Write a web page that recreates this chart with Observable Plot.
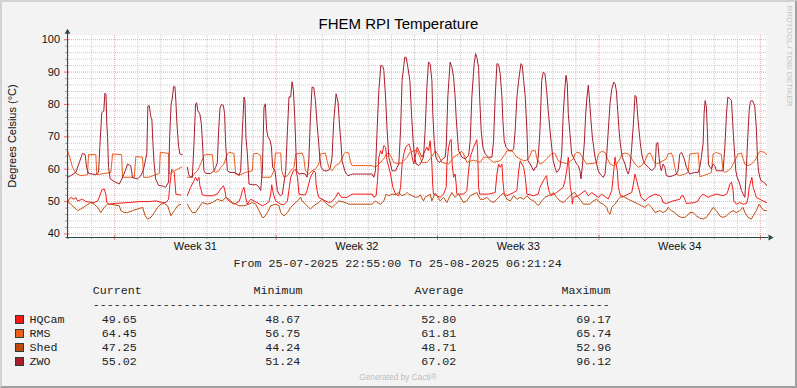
<!DOCTYPE html>
<html><head><meta charset="utf-8">
<script src="https://cdn.jsdelivr.net/npm/d3@7"></script>
<script src="https://cdn.jsdelivr.net/npm/@observablehq/plot@0.6"></script>
<style>
html,body{margin:0;padding:0;background:#F3F3F3;}
#wrap{position:relative;width:797px;height:388px;background:#F3F3F3;overflow:hidden;font-family:"Liberation Sans",Arial,sans-serif;}
#chart{position:absolute;left:0;top:0;}
#frame{position:absolute;left:0;top:0;width:797px;height:388px;box-sizing:border-box;border-style:solid;border-width:2px;border-color:#D2D2D2 #A0A0A0 #A0A0A0 #D2D2D2;pointer-events:none;}
.t{position:absolute;white-space:pre;line-height:1;}
.sw{position:absolute;width:7px;height:7px;border:1px solid #2C3E3A;}
</style></head><body>
<div id="wrap"><div id="chart"></div><div id="frame"></div></div>
<script>
// ---- data (hours since 25-07-2025 22:55, °C) ----
const seriesNames = ["HQCam","RMS","Shed","ZWO"];
const seriesColors = ["#F51A1A","#EC5E1C","#BE4A0E","#A81E2E"];
const legendCurrent = ["49.65","64.45","47.25","55.02"];
const legendMinimum = ["48.67","56.75","44.24","51.24"];
const legendAverage = ["52.80","61.81","48.71","67.02"];
const legendMaximum = ["69.17","65.74","52.96","96.12"];
const yTicks = [40,50,60,70,80,90,100];
const weekLabels = ["Week 31","Week 32","Week 33","Week 34"];

const hqcam = [[0,50],[1.8,50.7],[3.4,51.3],[7,50.7],[8.6,51.3],[10.4,50.2],[15.6,50.7],[19.1,50],[27.8,49.7],[31.3,50.2],[33,51.3],[35.7,53.6],[38.2,53.9],[39.9,52.3],[40.9,49.7],[43.4,49.2],[46.9,49.4],[64.3,49.7],[74.7,50],[85.1,50],[92,50.2],[99,49.7],[102.4,49.7],[105.2,50.7],[106.6,55.4],[108.6,60],[111.1,59],[112.8,52.3],[118,52],[120.8,NaN],
[124.7,51.8],[128.1,54.4],[131.6,56.4],[133.3,57.5],[135.1,56.4],[136.8,57.5],[137.8,54.9],[139.3,53.4],[140.3,52.1],[143.8,51.8],[150.7,51.8],[155.9,52.3],[159.4,53.9],[162.2,54.9],[163.5,53.9],[164.9,51.3],[168,50.2],[173.2,49.2],[178.4,50],[180.2,51.3],[182,53.4],[183.7,54.4],[185.4,51.3],[187.2,49.2],[190.6,50.7],[194.1,50.2],[202.8,48.7],[206.3,49.2],[209.7,50],[211.5,52.3],[212.5,55.2],[214.3,52.3],[216.7,50.2],[221.9,49.2],[225.3,49],[228.9,50.2],[232.3,57.5],[235.1,59.5],[237.5,60],[239.3,57.5],[240.9,52.3],
[244.1,52.1],[247.6,52.1],[249.3,53.4],[251,55.4],[252.8,57.5],[256.3,59.5],[258,59],[258.7,55.4],[259.7,53.4],[261.5,51.3],[268.4,50.2],[271.9,49.7],[275.3,50],[278.9,51.3],[281.6,52.8],[285.1,51.3],[290.9,51.3],[296.2,52.3],[317,52.3],[318.8,51.3],[321.2,51.8],[322.6,56.4],[324,63.7],[325.8,65.7],[327.4,64.7],[329.2,67.3],[331,66.8],[332.6,62.6],[334.4,60.6],[336.2,58.5],[338.6,54.4],[341.4,52.3],[344.8,51.8],[346.6,54.4],[348.2,61.6],[350,64.7],[351.8,66.8],[355.2,67.8],[357,66.3],[358.7,63.7],[360.4,61.6],[363.9,66.8],
[368.8,63.7],[374,66.8],[375.7,65.7],[377.4,68.8],[379.2,61.6],[380.2,54.4],[380.9,52.3],[387.8,51.3],[391.4,52.3],[394.1,54.4],[394.8,61.6],[396.6,66.8],[398.2,68.8],[399.3,69.2],[400.3,61.6],[401.8,57.5],[403.4,58.5],[404.5,55.4],[405.2,52.3],[412.2,52.3],[415.6,53.4],[417.4,59.5],[419.1,63.7],[422.6,66.8],[426,69.1],[426.8,65.7],[427.8,54.4],[428.9,52.3],[438.2,52.3],[445.1,52.8],[446.9,58.5],[448.6,61.6],[450.3,60.6],[452.1,61.6],[453.1,56.4],[454.5,52.3],[457.3,51.8],[464.3,52.8],[467.7,53.4],[469.5,59.5],[471.1,62.6],[472.9,61.6],[474.7,60.6],[476.4,57.5],[478.1,52.3],[485.1,51.8],
[489.9,52.3],[491.7,54.4],[495.1,56.4],[498.6,58],[499.6,55.4],[501,53.4],[503.1,51.8],[509,52.8],[515.9,54.4],[517.7,56.4],[519.5,59.5],[521.2,63.7],[523.3,54.4],[524.7,52.3],[525.4,49.2],[526.4,51.3],[531.6,51.8],[538.6,53.4],[542,51.8],[545.6,52.8],[552.4,51.3],[555.9,52.3],[562.8,50.8],[566.4,53.4],[568.5,59.5],[569.8,63.7],[570.9,61.6],[572.2,59.5],[573.3,54.4],[575,52.3],[576.8,51.3],[583.6,52.3],[587.2,52.8],[588.9,55.4],[590.6,58.5],[592.4,56.4],[594.1,54.4],[596.9,51.3],[601,50.2],[604.5,51.3],[611.5,52.3],
[616.4,51.8],[618,51.3],[619.8,49.7],[623.2,49.4],[630.2,50.2],[637.2,50.7],[638.9,51.8],[640.6,51.8],[642.4,50.7],[644.1,49.4],[652.8,49.7],[656.3,50.2],[658,51.3],[661.5,52.3],[666.7,51.3],[670.1,51.8],[675.3,52.3],[682.3,51.8],[685.8,52.3],[687.5,53.4],[689.3,55.4],[691,56],[692.7,53.4],[693.4,50.2],[696.1,49.2],[699.6,49.7],[703.1,49.2],[706.6,49.4],[708.3,51.3],[709.4,54.4],[712.2,57.5],[713.5,54.4],[715.3,52.8],[716.9,51.3],[720.5,50.7],[723.9,50.2],[727.4,49.7]];

const rms = [[0,65.7],[2.4,63.7],[5.2,60.6],[8.6,58.7],[13.9,58],[20.8,58.3],[21.9,64.5],[29.5,64.5],[30.5,58.3],[45.1,59],[46.9,64.7],[56.3,64.5],[57.3,57.5],[69.5,57.5],[71.1,63.9],[78.1,63.7],[79.2,57.5],[84.4,57.5],[95.5,58.7],[96.6,65.2],[105.2,64.9],[105.9,58.5],[114.6,60],[119.1,60.7],[120.8,NaN],
[124.7,57.5],[129.9,57.5],[131.6,58.5],[135.1,59.5],[138.5,61.6],[142,64.2],[143.8,64.5],[150.7,64.5],[152.4,59.5],[154.2,59],[157.6,59.5],[159.4,60.6],[162.8,61.6],[166.4,64.7],[168,65.2],[173.2,64.9],[175,58.5],[180.2,58.3],[185.4,59],[192.4,59.5],[193.4,64.7],[197.6,64.9],[201,64.2],[202.1,57.5],[211.5,57.5],[213.2,58.5],[214.9,59.5],[216.4,65],[221.9,65],[222.9,59.5],[225.3,57.5],[228.9,58],[232.3,59.5],[235.7,60.6],[237.5,64.7],[244.1,65],[245.8,63.7],[247.6,59.5],[251,58.5],[254.5,59.5],[258,60],[261.5,61.6],[263.2,64.7],[268.4,65],[270.1,62.6],[271.9,60.6],[275.3,59.5],[278.9,61.1],[282.3,61.6],[285.7,63.2],[287.5,64.7],[289.3,65.2],[292.7,65],[294.5,62.1],[296.2,61.1],[317,61.1],[320.5,60.6],[324,61.6],[327.4,62.6],[330.2,63.7],[331.6,64.7],[334.4,65],[336.2,64.2],[339.6,62.1],[344.8,61.6],[348.2,62.1],[350,62.6],[353.5,63.7],[356.3,65.2],[360.4,65.7],[363.9,65.7],
[367,63.7],[368.8,62.1],[374,62.1],[377.4,63.2],[381,64.7],[382.6,65.7],[386.2,64.2],[389.6,62.1],[396.6,61.6],[401.8,63.7],[407,64.7],[410.4,65.5],[412.2,64.7],[415.6,62.1],[422.6,62.8],[429.5,62.1],[433,63.7],[436.5,63.7],[443.4,62.1],[450.3,62.6],[455.5,64.7],[457.3,65.7],[462.5,65.7],[467.7,63.7],[474.7,62.6],[478.1,62.8],[481.6,64.2],[483.3,65.7],[486.8,65.7],[488.5,63.2],[491.7,61.6],[495.1,62.1],[498.6,63.2],[502.1,64.2],[503.9,64.9],[507.3,64.9],[510.7,62.6],[514.3,62.1],[519.5,61.8],[522.9,62.4],[526.4,63.2],[528.1,64.7],[529.9,65.2],[533.3,65],[536.8,63.2],[540.3,61.6],[547.2,61.8],[550.7,62.1],[552.4,64.7],[555.9,65.5],[559.4,65.2],[561.2,63.7],[564.6,61.6],[568,61.1],[571.6,61.6],[575,63.2],[577.4,64.7],[580.2,65],[583.6,64.7],[587.2,63.2],[590.6,61.6],[594.1,60.6],[597.6,61.1],[601,62.6],[603.9,64.7],[606.3,65],[608,64.2],[609.7,62.6],
[612.8,61.6],[616.4,62.1],[619.8,62.6],[623.2,63.2],[625,64.7],[628.4,65],[630.2,63.7],[632,60.6],[633.7,58.5],[637.2,58],[642.4,58.5],[645.8,59],[647.6,64.7],[656.3,65],[657.3,61.6],[658,57.7],[661.5,58],[666.7,58.5],[670.1,59],[671.9,64.7],[675.3,65.2],[680.5,64.5],[682.3,59.5],[684.1,59],[687.5,59.5],[691,60.6],[694.5,62.6],[697.9,64.7],[701.4,65],[703.1,63.2],[704.9,61.6],[708.3,61.1],[711.8,61.6],[715.3,62.6],[718.8,64.7],[720.5,65.5],[725.7,65.2],[727.4,64.5]];

const shed = [[0,50],[3.4,49.2],[7,48.2],[10.4,47.2],[13.9,47.7],[19.1,48.7],[24.3,49.7],[27.8,49.2],[31.3,48.2],[34.7,46.6],[38.2,48.2],[41.7,49.2],[45.1,49.2],[53.9,48.7],[55.5,47.2],[59.1,46.6],[62.5,46.6],[67.7,47.2],[72.9,47.7],[78.1,48.2],[80.9,45.6],[83.3,44.6],[86.8,45.1],[90.3,46.6],[93.8,48.2],[97.2,49.2],[100.7,49.4],[104.2,48.7],[107.6,45.6],[111.1,47.2],[114.6,48.7],[118,49.2],[120.8,NaN],
[124.7,49.2],[127.4,47.7],[129.9,46.6],[133.3,46.6],[136.8,48.2],[140.3,49.7],[145.5,49.2],[150.7,49.7],[155.9,50.7],[161.2,50.2],[164.6,51.3],[168,50.7],[171.6,49.7],[175,49.2],[178.4,48.7],[183.7,48.7],[188.9,49.2],[192.4,49.7],[195.8,49.2],[199.3,47.2],[202.8,45.1],[204.5,45.1],[208,46.6],[211.5,48.7],[216.7,49.2],[220.1,48.7],[221.9,46.6],[225.3,45.6],[228.9,46.6],[232.3,48.2],[235.7,49.2],[239.3,50.2],[242.7,51.3],[244.1,50.2],[247.6,49.2],[251,48.2],[252.8,47.7],[256.3,48.7],[261.5,49.7],[264.9,50.7],[270.1,49.2],[275.3,48.2],[278.9,49.2],[282.3,50.2],[289.3,49.7],[292.7,49.2],[317,49.2],[320.5,50.2],[322.2,49.7],[325.8,49.2],[329.2,50.2],[331.6,52.3],[334.4,51.8],[337.8,52.3],[341.4,52.1],[344.8,52.8],[348.2,51.8],[351.8,52.3],[353.5,52.8],[355.2,52.3],[358.7,51.8],[362.2,51.3],[365.6,51.5],
[367,52.1],[370.5,50.2],[372.2,51.3],[377.4,52.3],[379.2,50.2],[382.6,52.6],[384.4,51.8],[387.8,50.2],[391.4,51.3],[394.8,49.7],[398.2,51.8],[400,52.8],[403.4,51.3],[407,52.3],[412.2,49.7],[415.6,50.2],[419.1,51.8],[426,52.8],[429.5,50.7],[433,50.7],[436.5,51.3],[440,50.2],[443.4,49.7],[446.9,50.7],[450.3,51.8],[453.8,52.6],[457.3,50.7],[460.8,50.2],[464.3,51.8],[467.7,50.7],[471.1,51.3],[474.7,50.7],[478.1,51.8],[481.6,50.7],[485.1,50.2],[488.5,49.2],[489.9,48.7],[493.5,50.2],[496.9,51.3],[500.3,51.8],[503.9,52.3],[505.5,52.8],[509.1,51.3],[512.5,50.2],[515.9,49.7],[519.5,50.7],[522.9,51.8],[526.4,52.6],[528.1,52.8],[529.9,51.8],[533.3,50.7],[536.8,49.2],[543.8,49.2],[547.2,50.2],[550.7,50.7],[554.2,49.7],[557.6,49.2],[561.2,48.2],[562.8,46.6],[564.6,46.1],[566.4,48.2],[569.8,49.2],[573.3,50.7],[576.8,51.8],[580.2,51.3],[583.6,50.7],[587.2,50.2],[590.6,49.7],[594.1,49.2],[597.6,48.7],[601,48.2],[604.5,49.2],[608,48.2],[611.5,46.6],
[616.4,47.2],[619.8,46.6],[623.2,47.2],[625,48.2],[628.4,47.2],[632,46.6],[635.4,45.6],[638.9,45.1],[642.4,45.1],[645.8,45.9],[647.6,46.6],[651,46.6],[654.5,45.6],[658,44.9],[661.5,44.6],[664.9,45.1],[668.4,46.6],[671.9,48.2],[675.3,47.2],[678.8,45.6],[682.3,45.1],[685.8,45.6],[689.3,46.6],[692.7,47.2],[696.1,46.6],[699.6,47.2],[703.1,48.2],[704.9,46.6],[708.3,45.1],[711.8,44.6],[713.5,45.6],[716.9,47.2],[719.7,49.2],[722.1,48.2],[724.7,47.2],[727.4,47.2]];

const zwo = [[0,57.5],[3.4,58],[8.6,59],[12.2,62],[15.6,64.9],[18.4,64.5],[19.8,60.6],[21.9,58.7],[29.5,58.3],[32.3,59],[33.6,66.7],[35.7,77.5],[37.8,78],[38.9,83.5],[40.1,83],[40.9,74],[41.7,70],[42.7,60.5],[44.5,57],[48.6,56.2],[53.9,55.4],[56.6,57],[60.1,59.5],[62.5,61.6],[65.9,61],[67.7,57.4],[72.9,57],[76.4,58],[79.2,60],[82.6,65],[83.6,79.5],[85.1,79.6],[86.8,76],[87.8,75.5],[88.9,68],[90.1,62],[91.7,57],[94.8,55],[99,54.8],[102.1,54.4],[105.2,56],[106.3,70],[107.8,80],[109.1,82],[110.4,85.5],[111.8,85.5],[112.8,81],[113.9,74],[115.6,67],[117,64.7],[119.3,64.5],[120.8,NaN],
[124.7,60.6],[126.4,58],[129.9,57.5],[131.6,67.8],[133.3,80.2],[134.4,80.5],[135.7,78],[137.8,77],[139.3,74],[140.3,69],[142,59.5],[143.8,58.7],[149,58.7],[152.4,59.5],[154.2,60.6],[155.9,62],[157.3,72],[158.7,78.8],[160.1,80],[162.2,79.7],[163.5,77.2],[164.6,67.8],[166.4,59.5],[169.1,59],[173.2,59],[176.8,58.5],[178.4,58],[180.2,59.5],[182,72],[183.7,82.3],[184.7,81.2],[185.7,69.9],[187.2,64.7],[188.9,55.4],[192.4,55.2],[196.9,55.2],[199.3,54.4],[201,53.4],[202.8,59.5],[204.5,79.2],[205.9,80.2],[207.3,72],[208.6,70],[210.7,69],[212.2,66.9],[213.5,60.6],[215.9,59.5],[218.4,53.4],[220.1,52.3],[221.9,51.8],[223.6,52.3],[227.1,59.5],[228.9,72],[230.5,82.3],[232.3,82.3],[233.7,87],[235.1,84.4],[236.5,76],[238.5,59.5],[240.9,58.5],
[244.1,58.7],[247.6,58.5],[249.3,57.5],[251,61.6],[252.8,76],[254.5,85.4],[256.3,85.2],[258,81.2],[259.7,74],[261.5,67.8],[262.5,63.7],[263.9,60.6],[266.7,59.5],[270.1,59.5],[271.9,59.7],[273.7,60.6],[275.3,63.7],[277.1,75],[279.5,83.3],[281.6,80.7],[283,74],[284.7,67.8],[285.7,62.6],[288.6,59.5],[290.3,58.5],[292,58],[294.5,58.3],[296.2,58.5],[317,58.5],[318.8,57.5],[320.5,59.5],[322.2,72],[324,84.3],[326.1,92.1],[328.1,91.8],[329.2,90.5],[331,82.3],[332.6,72],[334.4,63.7],[336.2,61.6],[337.8,59.5],[341.4,59.5],[343,60.6],[344.8,61.6],[346.6,72],[348.2,87.4],[351,94.6],[352.4,94.6],[354.2,91.5],[356.3,87.4],[358,77],[359.7,68.8],[361.2,63.7],[362.8,61.6],[365.6,61.1],
[367,61.6],[368.8,62.6],[370.5,63.7],[372.2,72],[374,85.3],[375.7,93.1],[377.4,92.6],[379.2,87.4],[380.2,77],[381.6,68.8],[383.3,63.7],[385.1,62.6],[387.2,62.1],[388.5,62.6],[390.6,63.2],[393,63.7],[394.1,66.8],[395.8,82.3],[398.2,93.1],[400,91.5],[401.8,88.4],[403.4,82.3],[404.5,76],[405.9,69.9],[407,65.7],[408.7,64.7],[410.4,63.7],[413.9,63.2],[417.4,64.2],[419.1,68.8],[420.8,82.3],[423.2,92.6],[424.7,95.7],[426,94.6],[427.8,91.5],[428.9,82.3],[430.5,72],[432.3,66.8],[434.7,64.7],[436.5,64.2],[438.2,63.7],[441.7,63.7],[443.4,68.8],[445.1,82.3],[446.9,92.6],[448.6,92.4],[450.3,89.5],[452.1,82.3],[453.1,75],[454.5,68.8],[456.3,66.8],[458,66.3],[460.1,65.7],[462.5,65.7],[464.3,66.3],[465.9,72],[467.7,82.3],[469.5,87.4],[471.9,92.6],[473.2,92.1],[474.7,87.4],[476.4,82.3],[478.1,72],[479.2,62.6],[481.6,61.6],[483.3,60.6],[485.1,59.5],[486.8,60.6],
[488.2,60.6],[489.9,63.7],[491.7,72],[493.5,87.4],[495.1,90],[496.9,89.5],[498.6,84.4],[500.3,78.1],[502.1,72],[503.9,66.8],[505.5,62.6],[507.3,60.6],[509.1,59],[510.7,59.5],[512.5,60.6],[514.3,64.7],[515.9,77],[517.7,85.3],[518.8,89],[520.1,86.4],[521.2,77],[522.9,71],[524.7,64.7],[526.4,63.7],[528.1,62.6],[529.9,61.6],[531.6,61.1],[533.3,59.5],[534.4,57],[535.7,60.6],[537.8,67.8],[539.3,77],[540.6,82.3],[542,85.9],[543,82.3],[544.5,76],[546.2,69.9],[547.6,66.8],[549,63.7],[550.7,61.6],[552.4,59.5],[554.2,58.5],[555.9,58],[557.6,57.5],[559.4,58.5],[561.2,64.7],[562.8,72],[564.6,80.2],[566.4,84.8],[568.5,86.9],[569.8,86.4],[571.2,84.3],[572.6,78.1],[574,72],[575.3,67.8],[577.4,63.7],[580.2,61.6],[582,59.5],[583.6,58.5],[585.4,60.6],[587.2,66.8],[588.9,74],[590.6,82.8],[592,82.3],[593.5,76],[594.8,71.9],[596.2,67.8],[597.6,64.7],[599.3,62.6],[601,61.6],[604.5,60.6],[608,59.5],[611.5,60.6],
[612.8,67.8],[614.3,68.3],[615.6,63.7],[617,60.6],[618,59.5],[619.8,61.6],[621.6,60.6],[623.2,58],[626.8,57.7],[630.2,58],[633.7,58.5],[635.4,59.5],[637.2,64.7],[638.9,65.2],[640.6,64.2],[642.4,62.6],[644.1,60.6],[645.8,59.5],[647.6,58.5],[652.8,59],[656.3,59],[658,60.6],[659.7,63.7],[661.5,68],[662.5,77.2],[663.6,81.2],[664.9,79.2],[666,71],[667,61.6],[668.4,60.6],[670.1,60.1],[671.9,61.6],[673.7,61.1],[675.3,59.5],[682.3,59.5],[684.1,66.8],[685.8,77.2],[687.2,82.3],[689.3,81.8],[691,81.2],[692.7,72],[693.8,66.8],[695.5,59.5],[696.9,57.5],[699,56],[701.4,53.4],[703.1,52.3],[704.9,51.3],[706,57],[707.6,67.8],[709.4,78.1],[710.7,81],[712.8,81.2],[714.3,80.2],[715.3,79.2],[717,72],[718,63.7],[719.1,59.5],[720.5,57.5],[721.9,56.4],[724.7,55.9],[726.8,55.4],[727.4,55]];

const seriesData = [hqcam, rms, shed, zwo];

// ---- chart ----
const t0 = Date.UTC(2025,6,25,22,55,0);
const t1 = Date.UTC(2025,7,25,6,21,24);
const toDate = h => new Date(t0 + h * 3600e3);
const yMin = 38.9, yMax = 101.3;
const axisColor = "#2C4D43";
const gridColor = "#CACACA";
const mgridColor = "#EAA8A8";

const days = d3.utcDay.range(new Date(t0), new Date(t1));
const mondays = d3.utcMonday.range(new Date(t0), new Date(t1));
const minorDays = days.filter(d => d.getUTCDay() !== 1);
const weekCenters = mondays.map(m => d3.utcHour.offset(m, 84)).filter(d => +d < t1);
const minorY = d3.range(40, 101, 2).filter(v => v % 10 !== 0);

const hPerPx = (t1 - t0) / 3600e3 / 699;
const uPerPx = (yMax - yMin) / 202;

const lineMarks = seriesData.map((s, i) => Plot.line(s, {
  x: d => toDate(d[0]), y: d => d[1], stroke: seriesColors[i], strokeWidth: 1, strokeLinejoin: "miter"
}));

const chart = Plot.plot({
  width: 797, height: 250,
  marginLeft: 67, marginRight: 31, marginTop: 35, marginBottom: 13,
  x: {type: "utc", domain: [new Date(t0), new Date(t1)]},
  y: {domain: [yMin, yMax]},
  style: {background: "transparent", fontFamily: "'Liberation Sans', Arial, sans-serif", fontSize: "11px", color: "#111", overflow: "visible"},
  marks: [
    Plot.frame({fill: "#FFFFFF", stroke: "none"}),
    Plot.ruleY(minorY, {stroke: gridColor, strokeDasharray: "1,1"}),
    Plot.ruleX(minorDays, {stroke: gridColor, strokeDasharray: "1,1"}),
    Plot.ruleY(yTicks, {stroke: mgridColor, strokeDasharray: "1,1"}),
    Plot.ruleX(mondays, {stroke: mgridColor, strokeDasharray: "1,1"}),
    ...lineMarks,
    // axis ticks
    Plot.ruleX(minorDays, {y1: yMin - 2 * uPerPx, y2: yMin, stroke: "#A0A0A0"}),
    Plot.ruleX(mondays, {y1: yMin - 3 * uPerPx, y2: yMin + 2 * uPerPx, stroke: "#D87070"}),
    Plot.ruleY(minorY, {x1: toDate(-2 * hPerPx), x2: toDate(0), stroke: "#A0A0A0"}),
    Plot.ruleY(yTicks, {x1: toDate(-3 * hPerPx), x2: toDate(2 * hPerPx), stroke: "#D87070"}),
    // axis lines + arrows
    Plot.ruleX([new Date(t0)], {y1: yMin - 1.5 * uPerPx, y2: yMax + 2 * uPerPx, stroke: axisColor}),
    Plot.ruleY([yMin], {x1: toDate(-1.5 * hPerPx), x2: toDate((766 + 2 - 67) * hPerPx), stroke: axisColor}),
    Plot.dot([0], {x: () => new Date(t0), y: () => yMax + 3.4 * uPerPx, symbol: "triangle", r: 2.15, fill: axisColor, stroke: "none"}),
    Plot.dot([0], {x: () => toDate((769.7 - 67) * hPerPx), y: () => yMin, symbol: "triangle", r: 2.15, rotate: 90, fill: axisColor, stroke: "none"}),
    Plot.axisY(yTicks, {tickSize: 0, tickPadding: 7.5, label: null, fill: "#111"}),
    Plot.axisX(weekCenters, {tickSize: 0, tickPadding: 4.5, label: null, fill: "#111",
      tickFormat: d => weekLabels[weekCenters.findIndex(w => +w === +d)]})
  ]
});
document.getElementById("chart").appendChild(chart);

// ---- texts ----
const wrap = document.getElementById("wrap");
const SANS = "'Liberation Sans', Arial, sans-serif";
const MONO = "'Liberation Mono', 'Courier New', monospace";
function addText(str, x, base, o) {
  const el = document.createElement("div");
  el.className = "t";
  el.textContent = str;
  const asc = o.mono ? 0.7665 : 0.8465;
  el.style.fontFamily = o.mono ? MONO : SANS;
  el.style.fontSize = o.size + "px";
  el.style.left = x + "px";
  el.style.top = (base - asc * o.size) + "px";
  el.style.color = o.color || "#111";
  if (o.center) el.style.transform = "translateX(-50%)";
  wrap.appendChild(el);
  return el;
}
function addRotated(str, cx, cy, size, deg, color) {
  const el = document.createElement("div");
  el.className = "t";
  el.textContent = str;
  el.style.fontFamily = SANS;
  el.style.fontSize = size + "px";
  el.style.left = cx + "px";
  el.style.top = cy + "px";
  el.style.color = color;
  el.style.transform = `translate(-50%,-50%) rotate(${deg}deg)`;
  wrap.appendChild(el);
}

addText("FHEM RPI Temperature", 398.5, 28.3, {size: 15, center: true, color: "#000"});
addRotated("Degrees Celsius (°C)", 11.5, 136, 11, -90, "#111");
addRotated("RRDTOOL / TOBI OETIKER", 789, 56, 8, 90, "#C4C4C4");

const mono = {mono: true, size: 11.65, color: "#222"};
addText("From 25-07-2025 22:55:00 To 25-08-2025 06:21:24", 233.5, 266.5, mono);
addText("Current", 92.8, 294.3, mono);
addText("Minimum", 253.6, 294.3, mono);
addText("Average", 414.5, 294.3, mono);
addText("Maximum", 561.5, 294.3, mono);
addText("-".repeat(74), 92.8, 307.8, mono);

seriesNames.forEach((name, i) => {
  const base = 323.3 + i * 13.9;
  const sw = document.createElement("div");
  sw.className = "sw";
  sw.style.left = "15px";
  sw.style.top = (base - 8.3) + "px";
  sw.style.background = seriesColors[i];
  wrap.appendChild(sw);
  addText(name, 29.6, base, mono);
  addText(legendCurrent[i], 101.8, base, mono);
  addText(legendMinimum[i], 265.2, base, mono);
  addText(legendAverage[i], 421.2, base, mono);
  addText(legendMaximum[i], 576.2, base, mono);
});

addText("Generated by Cacti®", 398, 380, {size: 8.3, center: true, color: "#BDBDBD"});
</script>
</body></html>
